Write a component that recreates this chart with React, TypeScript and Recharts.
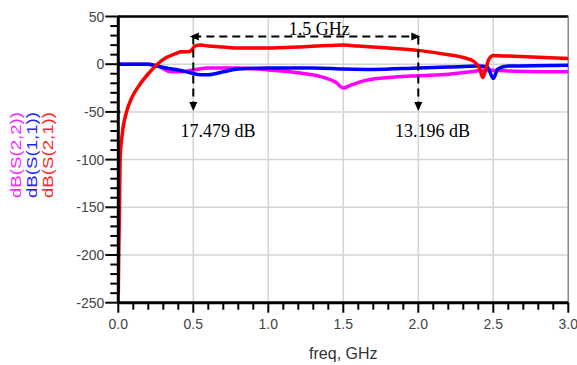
import { LineChart, Line, XAxis, YAxis, CartesianGrid, ReferenceLine, ReferenceDot } from 'recharts';

// S-parameter traces (freq in GHz, magnitude in dB)
const s21Freq = [0, 0.003, 0.008, 0.012, 0.025, 0.055, 0.09, 0.14, 0.2, 0.26, 0.32, 0.38, 0.42, 0.47, 0.49, 0.51, 0.55, 0.6, 0.7, 0.8, 1.0, 1.2, 1.4, 1.5, 1.6, 1.8, 2.0, 2.2, 2.3, 2.37, 2.41, 2.43, 2.45, 2.47, 2.5, 2.6, 3.0];
const s21dB = [-240, -200, -150, -100, -75, -50, -35, -22, -10, 0, 7, 11, 13, 13, 15, 19, 20, 19, 18, 17, 17, 18, 19.5, 20, 19, 17, 14.5, 10, 7, 3, -5, -14, -5, 5, 9, 8.5, 6];

const s11Freq = [0, 0.2, 0.26, 0.32, 0.4, 0.48, 0.55, 0.6, 0.7, 0.8, 1.0, 1.3, 1.5, 1.7, 2.0, 2.2, 2.4, 2.46, 2.5, 2.53, 2.6, 3.0];
const s11dB = [0, 0, -2, -4, -6, -9, -11, -11, -8, -5, -4, -4, -5, -5.5, -4, -3, -2, -3, -15, -5, -2, -1];

const s22Freq = [0, 0.2, 0.28, 0.35, 0.42, 0.5, 0.6, 0.8, 1.0, 1.2, 1.35, 1.45, 1.5, 1.55, 1.65, 1.8, 2.0, 2.2, 2.35, 2.45, 2.6, 3.0];
const s22dB = [0, 0, -3, -8, -8, -6, -4, -4, -6, -9, -13, -19, -25, -22, -17, -14, -12, -10.5, -8, -6, -7, -8];

const xMajor = [0, 0.5, 1.0, 1.5, 2.0, 2.5, 3.0];
const yMajor = [-250, -200, -150, -100, -50, 0, 50];

// minor ticks every 0.1 GHz / 10 dB
const xTicks: number[] = [];
for (let i = 0; i <= 30; i++) xTicks.push(i / 10);
const yTicks: number[] = [];
for (let v = -250; v <= 50; v += 10) yTicks.push(v);

const toRows = (f: number[], v: number[]) => f.map((x, i) => ({ f: x, v: v[i] }));
const s21 = toRows(s21Freq, s21dB);
const s11 = toRows(s11Freq, s11dB);
const s22 = toRows(s22Freq, s22dB);

const isMajorX = (v: number) => Math.abs(v * 2 - Math.round(v * 2)) < 1e-6;
const isMajorY = (v: number) => v % 50 === 0;

const tickFont = '"Liberation Sans", Arial, sans-serif';
const serif = '"Liberation Serif", "Times New Roman", serif';

const XTick = (props: any) => {
  const { x, y, payload } = props;
  const major = isMajorX(payload.value);
  return (
    <g>
      <line x1={x} x2={x} y1={y} y2={y + (major ? 10 : 7)} stroke="#000" strokeWidth={2} />
      {major && (
        <text x={x} y={y + 26} textAnchor="middle" fontSize={14} fontFamily={tickFont} fill="#444">
          {payload.value.toFixed(1)}
        </text>
      )}
    </g>
  );
};

const YTick = (props: any) => {
  const { x, y, payload } = props;
  const major = isMajorY(payload.value);
  return (
    <g>
      <line x1={x - (major ? 13 : 8)} x2={x + (major ? 2 : 0)} y1={y} y2={y} stroke="#000" strokeWidth={2} />
      {major && (
        <text x={x - 14} y={y + 5} textAnchor="end" fontSize={14} fontFamily={tickFont} fill="#444">
          {payload.value}
        </text>
      )}
    </g>
  );
};

const YLabel = () => (
  <g fontFamily={tickFont} fontSize={14}>
    <text transform="translate(21,155) rotate(-90)" textAnchor="middle" fill="#ff22ff" textLength={86} lengthAdjust="spacingAndGlyphs">dB(S(2,2))</text>
    <text transform="translate(37,155) rotate(-90)" textAnchor="middle" fill="#2222ff" textLength={86} lengthAdjust="spacingAndGlyphs">dB(S(1,1))</text>
    <text transform="translate(53,155) rotate(-90)" textAnchor="middle" fill="#ff2222" textLength={86} lengthAdjust="spacingAndGlyphs">dB(S(2,1))</text>
  </g>
);

const arrow = (dir: 'left' | 'right' | 'down') => (props: any) => {
  const { cx, cy } = props;
  let pts = '';
  if (dir === 'left') pts = `${cx - 2},${cy} ${cx + 7},${cy - 4} ${cx + 7},${cy + 4}`;
  if (dir === 'right') pts = `${cx + 2},${cy} ${cx - 7},${cy - 4} ${cx - 7},${cy + 4}`;
  if (dir === 'down') pts = `${cx},${cy} ${cx - 4},${cy - 9} ${cx + 4},${cy - 9}`;
  return <polygon points={pts} fill="#000" />;
};

const note = (txt: string) => (props: any) => (
  <text x={props.cx} y={props.cy} textAnchor="middle" fontSize={18} fontFamily={serif} fill="#000">
    {txt}
  </text>
);

export default function App() {
  return (
    <div style={{ position: 'absolute', left: 0, top: 0, background: '#fff' }}>
      <LineChart width={577} height={365} margin={{ top: 16.5, right: 8.7, bottom: 0, left: 0 }}>
        <CartesianGrid stroke="#d4d4d4" strokeWidth={1.5} horizontalValues={yMajor} verticalValues={xMajor} />
        <XAxis
          type="number"
          dataKey="f"
          domain={[0, 3]}
          ticks={xTicks}
          interval={0}
          tickSize={0}
          tickMargin={0}
          tick={XTick}
          height={62.3}
          axisLine={{ stroke: '#000', strokeWidth: 3 }}
          allowDataOverflow
          label={{ value: 'freq, GHz', position: 'insideBottom', offset: 6, fontSize: 16, fontFamily: tickFont, fill: '#333' }}
        />
        <YAxis
          type="number"
          domain={[-250, 50]}
          ticks={yTicks}
          interval={0}
          tickSize={0}
          tickMargin={0}
          tick={YTick}
          width={118.3}
          axisLine={{ stroke: '#000', strokeWidth: 3 }}
          allowDataOverflow
          label={<YLabel />}
        />
        <ReferenceLine y={50} stroke="#000" strokeWidth={2.5} />
        <ReferenceLine x={3} stroke="#8a8a8a" strokeWidth={1.5} />

        <Line data={s22} dataKey="v" type="monotone" stroke="#ff00ff" strokeWidth={3.5} dot={false} isAnimationActive={false} />
        <Line data={s11} dataKey="v" type="monotone" stroke="#0000ff" strokeWidth={3.5} dot={false} isAnimationActive={false} />
        <Line data={s21} dataKey="v" type="monotone" stroke="#ff0000" strokeWidth={3.5} dot={false} isAnimationActive={false} />

        {/* 1.5 GHz bandwidth marker */}
        <ReferenceLine segment={[{ x: 0.5, y: 29 }, { x: 2.0, y: 29 }]} stroke="#000" strokeWidth={2} strokeDasharray="8 5" />
        <ReferenceLine segment={[{ x: 0.5, y: 29 }, { x: 0.5, y: -45 }]} stroke="#000" strokeWidth={2} strokeDasharray="8 5" />
        <ReferenceLine segment={[{ x: 2.0, y: 29 }, { x: 2.0, y: -45 }]} stroke="#000" strokeWidth={2} strokeDasharray="8 5" />
        <ReferenceDot x={0.49} y={29} shape={arrow('left')} />
        <ReferenceDot x={2.0} y={29} shape={arrow('right')} />
        <ReferenceDot x={0.5} y={-49} shape={arrow('down')} />
        <ReferenceDot x={2.0} y={-49} shape={arrow('down')} />
        <ReferenceDot x={1.34} y={30.5} shape={note('1.5 GHz')} />
        <ReferenceDot x={0.665} y={-76} shape={note('17.479 dB')} />
        <ReferenceDot x={2.095} y={-76} shape={note('13.196 dB')} />
      </LineChart>
    </div>
  );
}
